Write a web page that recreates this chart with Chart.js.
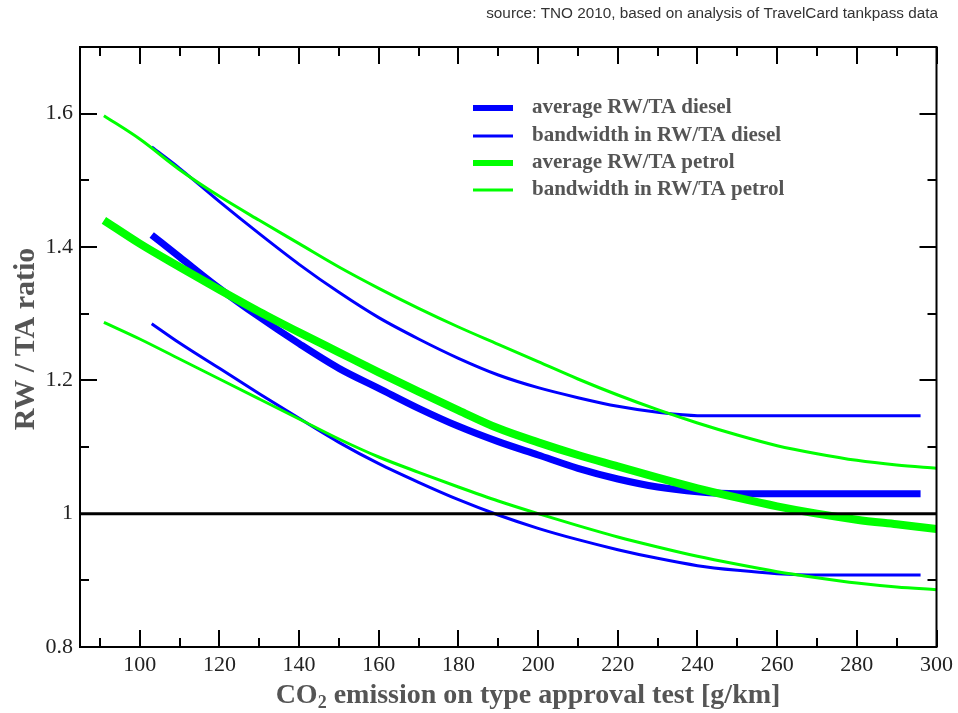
<!DOCTYPE html>
<html lang="en">
<head>
<meta charset="UTF-8">
<title>RW/TA ratio vs CO2 emission</title>
<script src="https://cdn.jsdelivr.net/npm/chart.js"></script>
<style>
  html, body { margin: 0; padding: 0; background: #fff; }
  #wrap { width: 958px; height: 713px; }
</style>
</head>
<body>
<div id="wrap"><canvas id="chart" width="958" height="713"></canvas></div>
<script>
// values
const petrolX = [91, 100, 110, 120, 130, 140, 150, 160, 170, 180, 190, 200, 210, 220, 230, 240, 250, 260, 270, 280, 290, 300];
const petrolAvg = [1.440, 1.405, 1.370, 1.336, 1.303, 1.272, 1.242, 1.212, 1.183, 1.155, 1.128, 1.107, 1.088, 1.071, 1.054, 1.038, 1.024, 1.011, 1.000, 0.991, 0.984, 0.977];
const petrolUpper = [1.597, 1.562, 1.516, 1.476, 1.440, 1.405, 1.370, 1.338, 1.308, 1.280, 1.254, 1.228, 1.202, 1.178, 1.156, 1.136, 1.118, 1.102, 1.090, 1.080, 1.073, 1.068];
const petrolLower = [1.287, 1.262, 1.232, 1.202, 1.172, 1.142, 1.112, 1.085, 1.062, 1.040, 1.019, 1.000, 0.982, 0.965, 0.950, 0.936, 0.924, 0.913, 0.904, 0.896, 0.890, 0.886];

const dieselX = [103, 110, 120, 130, 140, 150, 160, 170, 180, 190, 200, 210, 220, 230, 240, 250, 260, 270, 280, 290, 296];
const dieselAvg = [1.418, 1.385, 1.338, 1.295, 1.255, 1.218, 1.188, 1.158, 1.131, 1.108, 1.088, 1.068, 1.052, 1.040, 1.033, 1.030, 1.030, 1.030, 1.030, 1.030, 1.030];
const dieselUpper = [1.550, 1.518, 1.468, 1.420, 1.374, 1.332, 1.294, 1.262, 1.233, 1.208, 1.189, 1.174, 1.161, 1.152, 1.147, 1.147, 1.147, 1.147, 1.147, 1.147, 1.147];
const dieselLower = [1.285, 1.256, 1.218, 1.180, 1.143, 1.107, 1.075, 1.047, 1.021, 0.998, 0.978, 0.961, 0.946, 0.933, 0.922, 0.915, 0.910, 0.908, 0.908, 0.908, 0.908];

const refX = [85, 300];
const refY = [1, 1];

const xTicks = [100, 120, 140, 160, 180, 200, 220, 240, 260, 280, 300];
const xMinorTicks = [90, 110, 130, 150, 170, 190, 210, 230, 250, 270, 290];
const yTicks = [0.8, 1, 1.2, 1.4, 1.6];
const yMinorTicks = [0.9, 1.1, 1.3, 1.5];

const BLUE = "#0000ff";
const GREEN = "#00ff00";
const SERIF = "'Liberation Serif', 'DejaVu Serif', serif";

function pts(xs, ys) {
  return xs.map((x, i) => ({ x, y: ys[i] }));
}

// frame, inward ticks, axis titles, legend and source line
const decorations = {
  id: "decorations",
  afterDatasetsDraw(chart) {
    const { ctx, chartArea: a, scales } = chart;
    const x = scales.x, y = scales.y;
    ctx.save();
    ctx.strokeStyle = "#000";
    ctx.lineWidth = 2;
    ctx.strokeRect(a.left, a.top, a.right - a.left, a.bottom - a.top);

    ctx.beginPath();
    const xt = (v, len) => {
      const p = Math.round(x.getPixelForValue(v));
      ctx.moveTo(p, a.bottom); ctx.lineTo(p, a.bottom - len);
      ctx.moveTo(p, a.top); ctx.lineTo(p, a.top + len);
    };
    const yt = (v, len) => {
      const p = Math.round(y.getPixelForValue(v));
      ctx.moveTo(a.left, p); ctx.lineTo(a.left + len, p);
      ctx.moveTo(a.right, p); ctx.lineTo(a.right - len, p);
    };
    xTicks.forEach(v => xt(v, 17));
    xMinorTicks.forEach(v => xt(v, 9));
    yTicks.forEach(v => yt(v, 17));
    yMinorTicks.forEach(v => yt(v, 9));
    ctx.stroke();

    // legend
    const rows = [108, 136, 163, 190];
    ctx.font = "bold 21px " + SERIF;
    ctx.textBaseline = "middle";
    ctx.textAlign = "left";
    chart.data.datasets.filter(d => d.label).forEach((d, i) => {
      ctx.strokeStyle = d.borderColor;
      ctx.lineWidth = d.borderWidth > 4 ? 6 : 3;
      ctx.beginPath();
      ctx.moveTo(473, rows[i]);
      ctx.lineTo(513, rows[i]);
      ctx.stroke();
      ctx.fillStyle = "#555";
      ctx.fillText(d.label, 532, rows[i]);
    });

    // source
    ctx.font = "15.3px 'Liberation Sans', Arial, sans-serif";
    ctx.fillStyle = "#333";
    ctx.textAlign = "right";
    ctx.fillText("source: TNO 2010, based on analysis of TravelCard tankpass data", 938, 14);

    // y title
    ctx.fillStyle = "#555";
    ctx.font = "bold 30px " + SERIF;
    ctx.textAlign = "center";
    ctx.save();
    ctx.translate(26, 339);
    ctx.rotate(-Math.PI / 2);
    ctx.fillText("RW / TA ratio", 0, 0);
    ctx.restore();

    // x title with subscript
    const big = "bold 28px " + SERIF, small = "bold 18px " + SERIF;
    const p1 = "CO", p2 = "2", p3 = " emission on type approval test [g/km]";
    ctx.font = big;
    const w1 = ctx.measureText(p1).width, w3 = ctx.measureText(p3).width;
    ctx.font = small;
    const w2 = ctx.measureText(p2).width;
    let sx = 528 - (w1 + w2 + w3) / 2;
    const by = 703;
    ctx.textAlign = "left";
    ctx.textBaseline = "alphabetic";
    ctx.font = big; ctx.fillText(p1, sx, by); sx += w1;
    ctx.font = small; ctx.fillText(p2, sx, by + 5); sx += w2;
    ctx.font = big; ctx.fillText(p3, sx, by);
    ctx.restore();
  }
};

new Chart(document.getElementById("chart"), {
  type: "line",
  data: {
    datasets: [
      { label: "average RW/TA diesel", data: pts(dieselX, dieselAvg), borderColor: BLUE, borderWidth: 7, order: 3 },
      { label: "bandwidth in RW/TA diesel", data: pts(dieselX, dieselUpper), borderColor: BLUE, borderWidth: 3, order: 4 },
      { label: "average RW/TA petrol", data: pts(petrolX, petrolAvg), borderColor: GREEN, borderWidth: 8, order: 1 },
      { label: "bandwidth in RW/TA petrol", data: pts(petrolX, petrolUpper), borderColor: GREEN, borderWidth: 3, order: 2 },
      { data: pts(dieselX, dieselLower), borderColor: BLUE, borderWidth: 3, order: 4 },
      { data: pts(petrolX, petrolLower), borderColor: GREEN, borderWidth: 3, order: 2 },
      { data: pts(refX, refY), borderColor: "#000", borderWidth: 3, order: 0, cubicInterpolationMode: "default", tension: 0 }
    ]
  },
  options: {
    responsive: false,
    animation: false,
    layout: { padding: { top: 47, right: 20, left: 0, bottom: 0 } },
    elements: {
      point: { radius: 0 },
      line: { cubicInterpolationMode: "monotone", borderCapStyle: "butt", fill: false }
    },
    plugins: { legend: { display: false }, tooltip: { enabled: false }, title: { display: false } },
    scales: {
      x: {
        type: "linear",
        min: 85,
        max: 300,
        grid: { display: false, drawTicks: false },
        border: { display: false },
        afterBuildTicks: s => { s.ticks = xTicks.map(v => ({ value: v })); },
        afterFit: s => { s.height = 66; },
        ticks: {
          autoSkip: false,
          maxRotation: 0,
          padding: 5,
          color: "#222",
          font: { family: SERIF, size: 22 },
          callback: v => String(v)
        }
      },
      y: {
        type: "linear",
        min: 0.8,
        max: 1.7,
        grid: { display: false, drawTicks: false },
        border: { display: false },
        afterBuildTicks: s => { s.ticks = yTicks.map(v => ({ value: v })); },
        afterFit: s => { s.width = 80; },
        ticks: {
          autoSkip: false,
          padding: 7,
          color: "#222",
          font: { family: SERIF, size: 22 },
          callback: v => String(v)
        }
      }
    }
  },
  plugins: [decorations]
});
</script>
</body>
</html>
